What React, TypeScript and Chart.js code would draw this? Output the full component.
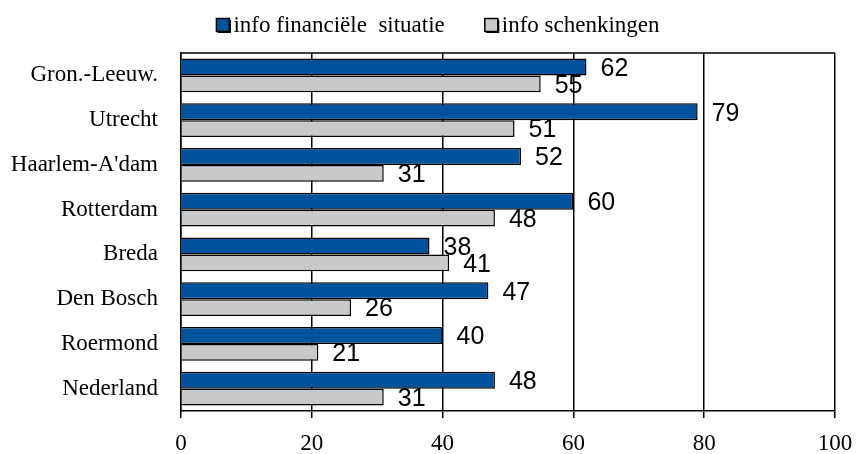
import React, { useEffect, useRef } from "react";
import { Chart, registerables } from "chart.js";

Chart.register(...registerables);

const categories = [
  "Gron.-Leeuw.",
  "Utrecht",
  "Haarlem-A'dam",
  "Rotterdam",
  "Breda",
  "Den Bosch",
  "Roermond",
  "Nederland",
];
const seriesNames = ["info financiële  situatie", "info schenkingen"];
const financieel = [62, 79, 52, 60, 38, 47, 40, 48];
const schenkingen = [55, 51, 31, 48, 41, 26, 21, 31];
const xTicks = [0, 20, 40, 60, 80, 100];

const BLUE = "#00529C";
const GRAY = "#C8C9CB";
const SERIF = "'Liberation Serif', 'Times New Roman', serif";
const SANS = "'Liberation Sans', Arial, sans-serif";

const valueLabels = {
  id: "valueLabels",
  afterDatasetsDraw(chart: any) {
    const ctx = chart.ctx;
    ctx.save();
    ctx.font = `25px ${SANS}`;
    ctx.fillStyle = "#000";
    ctx.textAlign = "left";
    ctx.textBaseline = "middle";
    chart.data.datasets.forEach((ds: any, di: number) => {
      const meta = chart.getDatasetMeta(di);
      meta.data.forEach((bar: any, i: number) => {
        ctx.fillText(String(ds.data[i]), bar.x + 14, bar.y + 2);
      });
    });
    ctx.restore();
  },
};

const frame = {
  id: "frame",
  afterDraw(chart: any) {
    const { ctx, chartArea } = chart;
    ctx.save();
    ctx.strokeStyle = "#000";
    ctx.lineWidth = 1.5;
    ctx.beginPath();
    ctx.moveTo(chartArea.left, chartArea.top);
    ctx.lineTo(chartArea.right, chartArea.top);
    ctx.stroke();
    ctx.restore();
  },
};

const customLegend = {
  id: "customLegend",
  afterDraw(chart: any) {
    const ctx = chart.ctx;
    ctx.save();
    ctx.font = `23px ${SERIF}`;
    ctx.textBaseline = "middle";
    ctx.textAlign = "left";
    const box = 13;
    const gapBoxText = 4;
    const gapItems = 40;
    const colors = [BLUE, GRAY];
    const widths = seriesNames.map((n) => ctx.measureText(n).width);
    const total =
      widths.reduce((a, b) => a + b, 0) + seriesNames.length * (box + gapBoxText) + gapItems * (seriesNames.length - 1);
    let x = 438 - total / 2;
    const y = 25;
    seriesNames.forEach((name, i) => {
      ctx.fillStyle = "#000";
      ctx.fillRect(x + 1.5, y - box / 2 + 1.5, box, box);
      ctx.fillStyle = colors[i];
      ctx.fillRect(x, y - box / 2, box, box);
      ctx.strokeStyle = "#000";
      ctx.lineWidth = 1.5;
      ctx.strokeRect(x, y - box / 2, box, box);
      ctx.fillStyle = "#000";
      ctx.fillText(name, x + box + gapBoxText, y + 1);
      x += box + gapBoxText + widths[i] + gapItems;
    });
    ctx.restore();
  },
};

export default function App() {
  const ref = useRef<HTMLCanvasElement>(null);
  useEffect(() => {
    if (!ref.current) return;
    const chart = new Chart(ref.current, {
      type: "bar",
      data: {
        labels: categories,
        datasets: [
          {
            label: seriesNames[0],
            data: financieel,
            backgroundColor: BLUE,
            borderColor: "#000",
            borderWidth: 1.5,
            barPercentage: 1,
            categoryPercentage: 0.75,
          },
          {
            label: seriesNames[1],
            data: schenkingen,
            backgroundColor: GRAY,
            borderColor: "#000",
            borderWidth: 1.5,
            barPercentage: 1,
            categoryPercentage: 0.75,
          },
        ],
      },
      options: {
        indexAxis: "y",
        animation: false,
        responsive: true,
        maintainAspectRatio: false,
        layout: { padding: { top: 53, right: 21, left: 0, bottom: 0 } },
        plugins: {
          legend: { display: false },
          tooltip: { enabled: false },
        },
        scales: {
          x: {
            min: 0,
            max: 100,
            afterFit: (s: any) => {
              s.height = 43;
              s.paddingLeft = 0;
              s.paddingRight = 0;
            },
            afterBuildTicks: (s: any) => {
              s.ticks = xTicks.map((v) => ({ value: v }));
            },
            grid: {
              color: "#000",
              lineWidth: 1.5,
              tickLength: 7,
              drawTicks: true,
            },
            border: { display: true, color: "#000", width: 1.5 },
            ticks: {
              color: "#000",
              font: { family: SERIF, size: 23 },
              padding: 12,
              maxRotation: 0,
            },
          },
          y: {
            afterFit: (s: any) => {
              s.width = 181;
              s.paddingTop = 0;
              s.paddingBottom = 0;
            },
            grid: { display: false, drawTicks: false },
            border: { display: true, color: "#000", width: 1.5 },
            ticks: {
              color: "#000",
              font: { family: SERIF, size: 23 },
              padding: 23,
            },
          },
        },
      },
      plugins: [valueLabels, frame, customLegend],
    });
    return () => chart.destroy();
  }, []);
  return (
    <div style={{ position: "absolute", left: 0, top: 0, width: 856, height: 454, background: "#fff" }}>
      <canvas ref={ref} />
    </div>
  );
}
